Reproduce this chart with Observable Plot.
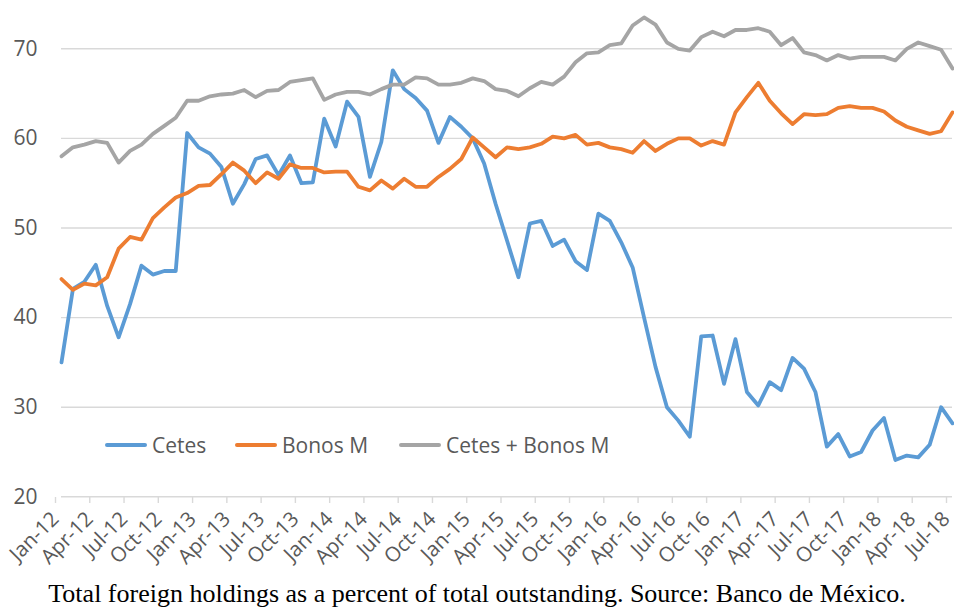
<!DOCTYPE html>
<html>
<head>
<meta charset="utf-8">
<script src="https://cdn.jsdelivr.net/npm/d3@7"></script>
<script src="https://cdn.jsdelivr.net/npm/@observablehq/plot@0.6"></script>
<style>
  body { margin: 0; background: #fff; }
  #wrap { position: relative; width: 954px; height: 609px; overflow: hidden; background: #fff; }
  #chart { position: absolute; left: 0; top: 0; }
  .leg { position: absolute; top: 430px; height: 30px; display: flex; align-items: center;
         font-family: "Open Sans", sans-serif; font-size: 21px; color: #595959; white-space: nowrap; }
  .leg .sw { display: inline-block; width: 42px; height: 4px; margin-right: 5px; border-radius: 2px; }
  #caption { position: absolute; left: 0; top: 581px; width: 954px; text-align: center;
             font-family: "Liberation Serif", "Times New Roman", serif; font-size: 26px; line-height: 26px; color: #000; }
</style>
</head>
<body>
<div id="wrap">
  <div id="chart"></div>
  <div id="legend"></div>
  <div id="caption">Total foreign holdings as a percent of total outstanding. Source: Banco de México.</div>
</div>
<script>
// Monthly observations, Jan-12 .. Jul-18 (79 months)
const tickLabels = ["Jan-12","Apr-12","Jul-12","Oct-12","Jan-13","Apr-13","Jul-13","Oct-13",
  "Jan-14","Apr-14","Jul-14","Oct-14","Jan-15","Apr-15","Jul-15","Oct-15","Jan-16","Apr-16",
  "Jul-16","Oct-16","Jan-17","Apr-17","Jul-17","Oct-17","Jan-18","Apr-18","Jul-18"];

const cetes = [35.0,43.2,44.0,45.9,41.3,37.8,41.5,45.8,44.8,45.2,45.2,60.6,59.0,58.3,56.8,52.7,
  54.9,57.7,58.1,55.9,58.1,55.0,55.1,62.2,59.1,64.1,62.4,55.7,59.6,67.6,65.5,64.5,63.1,59.5,
  62.4,61.3,60.0,57.2,52.7,48.6,44.5,50.5,50.8,48.0,48.7,46.3,45.3,51.6,50.8,48.4,45.6,40.0,
  34.5,30.0,28.5,26.7,37.9,38.0,32.6,37.6,31.7,30.2,32.8,31.9,35.5,34.3,31.7,25.6,27.0,24.5,
  25.0,27.4,28.8,24.1,24.6,24.4,25.8,30.0,28.2];

const bonosM = [44.3,43.1,43.8,43.6,44.5,47.7,49.0,48.7,51.1,52.3,53.4,53.9,54.7,54.8,56.0,57.3,
  56.4,55.0,56.2,55.5,57.1,56.7,56.7,56.2,56.3,56.3,54.6,54.2,55.3,54.4,55.5,54.6,54.6,55.7,
  56.6,57.7,60.1,59.0,57.9,59.0,58.8,59.0,59.4,60.2,60.0,60.4,59.3,59.5,59.0,58.8,58.4,59.7,
  58.6,59.4,60.0,60.0,59.2,59.7,59.3,62.9,64.6,66.2,64.2,62.8,61.6,62.7,62.6,62.7,63.4,63.6,
  63.4,63.4,63.0,62.0,61.3,60.9,60.5,60.8,62.9];

const total = [58.0,59.0,59.3,59.7,59.5,57.3,58.6,59.3,60.5,61.4,62.3,64.2,64.2,64.7,64.9,65.0,
  65.4,64.6,65.3,65.4,66.3,66.5,66.7,64.3,64.9,65.2,65.2,64.9,65.5,66.0,66.0,66.8,66.7,66.0,
  66.0,66.2,66.7,66.4,65.5,65.3,64.7,65.6,66.3,66.0,66.9,68.5,69.5,69.6,70.4,70.6,72.6,73.5,
  72.7,70.7,70.0,69.8,71.3,71.9,71.4,72.1,72.1,72.3,71.9,70.4,71.2,69.6,69.3,68.7,69.3,68.9,
  69.1,69.1,69.1,68.7,70.0,70.7,70.3,69.9,67.8];

const seriesNames = ["Cetes", "Bonos M", "Cetes + Bonos M"];
const seriesColors = ["#5B9BD5", "#ED7D31", "#A5A5A5"];
const yTicks = [20, 30, 40, 50, 60, 70];

const seriesValues = [cetes, bonosM, total];
const rows = seriesValues.flatMap((vals, s) => vals.map((v, i) => ({i, v, s: seriesNames[s]})));
const tickPositions = tickLabels.map((_, k) => k * 3);

const plot = Plot.plot({
  width: 954,
  height: 580,
  marginLeft: 61,
  marginRight: 2,
  marginTop: 0,
  marginBottom: 83,
  style: {fontFamily: "'Open Sans', sans-serif", fontSize: "21px", background: "#fff", overflow: "visible"},
  x: {type: "linear", domain: [0, cetes.length - 1], axis: null},
  y: {domain: [20, 70], range: [496.3, 48.3], axis: null},
  color: {domain: seriesNames, range: seriesColors},
  marks: [
    Plot.gridY(yTicks.filter(d => d > 20), {stroke: "#d9d9d9", strokeOpacity: 1, strokeWidth: 1.4}),
    Plot.ruleY([20], {stroke: "#d9d9d9", strokeWidth: 1.4}),
    Plot.axisY({ticks: yTicks, tickSize: 0, tickPadding: 24, fill: "#595959", fontSize: 21,
      label: null, tickFormat: d => d}),
    Plot.axisX({ticks: tickPositions, tickSize: 6, stroke: "#d9d9d9", strokeWidth: 1.4, fill: "#595959",
      tickRotate: -45, tickPadding: 12, dx: -6, fontSize: 20.5, label: null,
      tickFormat: i => tickLabels[Math.round(i / 3)]}),
    Plot.line(rows, {x: "i", y: "v", z: "s", stroke: "s", strokeWidth: 3.8,
      strokeLinejoin: "round", strokeLinecap: "round"})
  ]
});
document.getElementById("chart").appendChild(plot);

// Legend inside the plot area
const legendLeft = [105, 235, 399];
const legend = document.getElementById("legend");
seriesNames.forEach((name, k) => {
  const item = document.createElement("div");
  item.className = "leg";
  item.style.left = legendLeft[k] + "px";
  item.innerHTML = `<span class="sw" style="background:${seriesColors[k]}"></span><span>${name}</span>`;
  legend.appendChild(item);
});
</script>
</body>
</html>
